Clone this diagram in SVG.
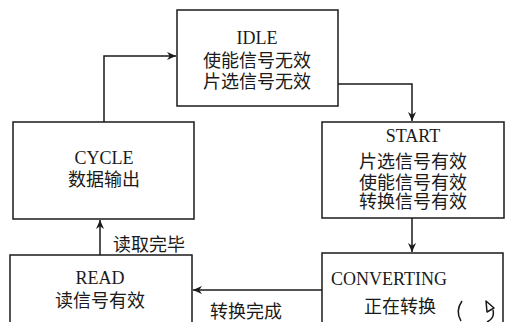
<svg xmlns="http://www.w3.org/2000/svg" width="511" height="322" viewBox="0 0 511 322">
<defs>
<style>
.box{fill:#fff;stroke:#1a1a1a;stroke-width:1.5}
.ln{fill:none;stroke:#1a1a1a;stroke-width:1.5}
text{font-family:"Liberation Serif","Noto Sans CJK SC",serif;font-size:18px;fill:#1a1a1a;text-anchor:middle}
</style>
<marker id="ah" viewBox="0 0 10 10" refX="10" refY="5" markerWidth="9" markerHeight="9" orient="auto" markerUnits="userSpaceOnUse">
<path d="M0,0.5 L10,5 L0,9.5 L3,5 Z" fill="#1a1a1a"/>
</marker>
</defs>
<rect width="511" height="322" fill="#fff"/>
<g id="connectors">
<path class="ln" d="M338,84 H412 V121" marker-end="url(#ah)"/>
<path class="ln" d="M412,218 V252" marker-end="url(#ah)"/>
<path class="ln" d="M322,290 H193" marker-end="url(#ah)"/>
<path class="ln" d="M100,255 V220" marker-end="url(#ah)"/>
<path class="ln" d="M104,122 V56 H176" marker-end="url(#ah)"/>
<text x="149" y="251">读取完毕</text>
<text x="246" y="318">转换完成</text>
</g>
<g id="idle">
<rect class="box" x="177" y="10" width="161" height="96"/>
<text x="257" y="44">IDLE</text>
<text x="257" y="67">使能信号无效</text>
<text x="257" y="88">片选信号无效</text>
</g>
<g id="start">
<rect class="box" x="322" y="122" width="182" height="96"/>
<text x="413" y="142">START</text>
<text x="413" y="168">片选信号有效</text>
<text x="413" y="189">使能信号有效</text>
<text x="413" y="208">转换信号有效</text>
</g>
<g id="cycle">
<rect class="box" x="13" y="122" width="181" height="97"/>
<text x="104" y="164">CYCLE</text>
<text x="104" y="186">数据输出</text>
</g>
<g id="read">
<rect class="box" x="10" y="255" width="182" height="80"/>
<text x="100" y="284">READ</text>
<text x="100" y="307">读信号有效</text>
</g>
<g id="converting">
<rect class="box" x="322" y="253" width="181" height="80"/>
<text x="389" y="285">CONVERTING</text>
<text x="400" y="313">正在转换</text>
<path class="ln" d="M462,301 Q455,311 461,321"/>
<path class="ln" d="M493,310 Q495,318 487,322"/>
<path d="M486,301 L494,308 L487,312 Z" fill="none" stroke="#1a1a1a" stroke-width="1.5" stroke-linejoin="round"/>
</g>
</svg>
